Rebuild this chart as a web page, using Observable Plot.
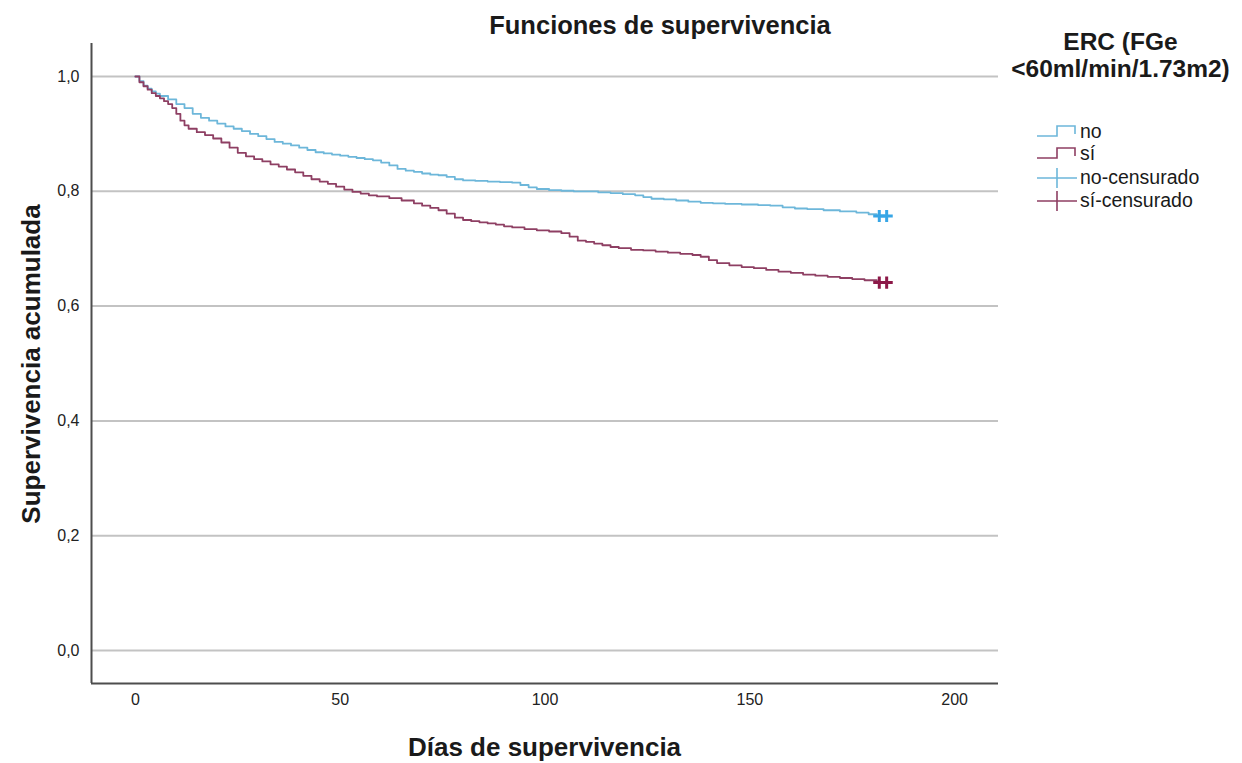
<!DOCTYPE html>
<html>
<head>
<meta charset="utf-8">
<script src="https://cdn.jsdelivr.net/npm/d3@7"></script>
<script src="https://cdn.jsdelivr.net/npm/@observablehq/plot@0.6"></script>
<style>
  html, body { margin: 0; padding: 0; background: #fff; }
  #wrap { position: relative; width: 1242px; height: 763px; font-family: "Liberation Sans", Arial, sans-serif; color: #1a1a1a; }
  #wrap svg.plot { position: absolute; left: 0; top: 0; }
  .lbl { position: absolute; font-weight: bold; white-space: nowrap; }
  .leg { position: absolute; left: 1036px; font-size: 19.5px; display: flex; align-items: center; height: 23px; }
  .leg svg { margin-right: 2px; }
</style>
</head>
<body>
<div id="wrap">
  <div class="lbl" id="title" style="left:0;width:1242px;top:11px;text-align:center;font-size:25.5px;padding-left:78px;box-sizing:border-box;">Funciones de supervivencia</div>
  <div class="lbl" id="xlab" style="left:91px;width:907px;top:732px;text-align:center;font-size:26px;">Días de supervivencia</div>
  <div class="lbl" id="ylab" style="left:31px;top:364px;font-size:26px;transform:translate(-50%,-50%) rotate(-90deg);">Supervivencia acumulada</div>
  <div class="lbl" id="legtitle" style="left:999px;width:243px;top:28px;text-align:center;font-size:24.5px;line-height:27px;">ERC (FGe<br>&lt;60ml/min/1.73m2)</div>
  <div id="legend"></div>
</div>
<script>
// ---- data (Kaplan-Meier step points) ----
const noDays = [0, 1, 2, 3, 4, 5, 6, 8, 10, 12, 14, 16, 18, 20, 22, 24, 26, 28, 30, 32, 34, 36, 38, 40, 42, 44, 46, 48, 50, 52, 54, 56, 58, 60, 62, 64, 66, 68, 70, 72, 74, 76, 78, 80, 83, 86, 89, 92, 94, 96, 98, 101, 104, 107, 110, 113, 116, 119, 122, 124, 126, 129, 132, 135, 138, 141, 144, 148, 152, 155, 158, 161, 164, 168, 172, 176, 179, 181, 184];
const noSurv = [1.000, 0.992, 0.984, 0.979, 0.974, 0.970, 0.966, 0.960, 0.952, 0.945, 0.935, 0.928, 0.923, 0.918, 0.913, 0.909, 0.905, 0.900, 0.896, 0.891, 0.886, 0.883, 0.880, 0.876, 0.872, 0.868, 0.866, 0.864, 0.862, 0.860, 0.858, 0.856, 0.854, 0.850, 0.845, 0.839, 0.836, 0.834, 0.831, 0.829, 0.828, 0.825, 0.821, 0.819, 0.818, 0.817, 0.816, 0.815, 0.811, 0.807, 0.804, 0.802, 0.801, 0.800, 0.800, 0.798, 0.797, 0.795, 0.793, 0.790, 0.787, 0.786, 0.784, 0.782, 0.780, 0.779, 0.778, 0.777, 0.776, 0.775, 0.772, 0.770, 0.769, 0.767, 0.765, 0.763, 0.760, 0.757, 0.757];
const siDays = [0, 1, 2, 3, 4, 5, 6, 7, 8, 9, 10, 11, 12, 13, 15, 17, 19, 21, 23, 25, 27, 29, 31, 33, 35, 37, 39, 41, 43, 45, 47, 49, 51, 53, 55, 57, 59, 62, 65, 68, 70, 72, 74, 76, 78, 80, 82, 84, 86, 88, 90, 92, 95, 98, 101, 104, 106, 108, 110, 112, 114, 116, 118, 121, 124, 127, 130, 133, 136, 138, 140, 142, 145, 148, 151, 154, 157, 160, 163, 166, 169, 172, 175, 178, 181, 184];
const siSurv = [1.000, 0.990, 0.983, 0.977, 0.971, 0.966, 0.962, 0.957, 0.952, 0.945, 0.935, 0.923, 0.915, 0.909, 0.903, 0.898, 0.892, 0.885, 0.876, 0.867, 0.861, 0.856, 0.852, 0.847, 0.843, 0.838, 0.833, 0.827, 0.821, 0.817, 0.813, 0.808, 0.803, 0.799, 0.796, 0.793, 0.791, 0.788, 0.784, 0.779, 0.775, 0.771, 0.767, 0.761, 0.754, 0.750, 0.748, 0.746, 0.744, 0.742, 0.739, 0.737, 0.734, 0.732, 0.730, 0.727, 0.721, 0.714, 0.712, 0.709, 0.706, 0.703, 0.701, 0.698, 0.697, 0.695, 0.693, 0.691, 0.689, 0.686, 0.680, 0.675, 0.671, 0.668, 0.666, 0.663, 0.660, 0.658, 0.655, 0.653, 0.651, 0.649, 0.647, 0.645, 0.641, 0.641];
const noCensorDays = [181.6, 183.4];
const noCensorSurv = [0.757, 0.757];
const siCensorDays = [181.6, 183.4];
const siCensorSurv = [0.641, 0.641];
const xTicks = [0, 50, 100, 150, 200];
const yTicks = [0, 0.2, 0.4, 0.6, 0.8, 1.0];
const groups = ["no", "sí", "no-censurado", "sí-censurado"];
const colors = {line_no: "#6db7da", line_si: "#8e3f63", cens_no: "#37a6e6", cens_si: "#8c1848"};

const xDom = [-10.7, 210.7];
const yDom = [-0.0575, 1.0575];

const toRows = (xs, ys) => xs.map((d, i) => ({day: d, s: ys[i]}));
const noRows = toRows(noDays, noSurv);
const siRows = toRows(siDays, siSurv);
const noCens = toRows(noCensorDays, noCensorSurv);
const siCens = toRows(siCensorDays, siCensorSurv);

const chart = Plot.plot({
  width: 1242,
  height: 763,
  marginLeft: 91,
  marginRight: 244,
  marginTop: 43,
  marginBottom: 80,
  x: {domain: xDom},
  y: {domain: yDom},
  style: {fontFamily: "'Liberation Sans', Arial, sans-serif", fontSize: "16px", color: "#222", background: "transparent"},
  marks: [
    Plot.ruleY(yTicks, {stroke: "#c3c3c3", strokeWidth: 2}),
    Plot.axisY(yTicks, {tickSize: 0, tickPadding: 12, tickFormat: d => d.toFixed(1).replace(".", ","), label: null, fontSize: 16}),
    Plot.axisX(xTicks, {tickSize: 0, tickPadding: 10, label: null, fontSize: 16}),
    Plot.line(noRows, {x: "day", y: "s", curve: "step-after", stroke: colors.line_no, strokeWidth: 1.8}),
    Plot.line(siRows, {x: "day", y: "s", curve: "step-after", stroke: colors.line_si, strokeWidth: 1.8}),
    Plot.dot(noCens, {x: "day", y: "s", symbol: "plus", r: 4, fill: "none", stroke: colors.cens_no, strokeWidth: 3}),
    Plot.dot(siCens, {x: "day", y: "s", symbol: "plus", r: 4, fill: "none", stroke: colors.cens_si, strokeWidth: 3}),
    Plot.ruleX([xDom[0]], {stroke: "#4d4d4d", strokeWidth: 2}),
    Plot.ruleY([yDom[0]], {stroke: "#4d4d4d", strokeWidth: 2})
  ]
});
chart.classList.add("plot");
document.getElementById("wrap").prepend(chart);

// legend
const legend = document.getElementById("legend");
const icon = (kind, col) => {
  const ns = "http://www.w3.org/2000/svg";
  const s = document.createElementNS(ns, "svg");
  s.setAttribute("width", 42); s.setAttribute("height", 23);
  const p = document.createElementNS(ns, "path");
  p.setAttribute("d", kind === "step" ? "M1,16 H21 V6 H39 V14" : "M1,12 H41 M21,2 V22");
  p.setAttribute("fill", "none"); p.setAttribute("stroke", col); p.setAttribute("stroke-width", 1.6);
  s.appendChild(p);
  return s;
};
const legCols = [colors.line_no, colors.line_si, "#6db7da", "#8e3f63"];
const legTops = [120, 142, 166, 189];
groups.forEach((g, i) => {
  const row = document.createElement("div");
  row.className = "leg";
  row.style.top = legTops[i] + "px";
  row.appendChild(icon(i < 2 ? "step" : "cross", legCols[i]));
  const t = document.createElement("span");
  t.textContent = g;
  row.appendChild(t);
  legend.appendChild(row);
});
</script>
</body>
</html>
